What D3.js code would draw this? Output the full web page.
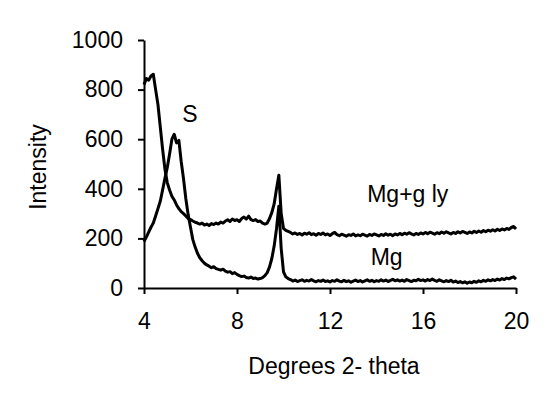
<!DOCTYPE html>
<html>
<head>
<meta charset="utf-8">
<script src="https://cdn.jsdelivr.net/npm/d3@7"></script>
<style>
  html, body { margin: 0; padding: 0; background: #fff; }
  svg text { font-family: "Liberation Sans", Arial, sans-serif; fill: #000; }
</style>
</head>
<body>
<svg id="chart" width="552" height="400"></svg>
<script>
// 2-theta grid: start and step of the diffractogram samples
const thetaStart = 4.0;
const thetaStep = 0.1;

// Mg + glycerol (Mg+g ly) intensities, 4.0 .. 20.0 step 0.1
const mgGly = [
  820, 845, 838, 855, 862, 800, 740, 650, 560, 480,   // 4.x
  425, 395, 370, 355, 335, 320, 308, 300, 290, 280,   // 5.x
  276, 270, 265, 262, 258, 262, 254, 258, 252, 260,   // 6.x
  256, 262, 258, 266, 262, 270, 275, 268, 278, 272,   // 7.x
  275, 268, 280, 286, 278, 290, 276, 272, 276, 268,   // 8.x
  270, 262, 258, 262, 280, 305, 340, 400, 455, 300,   // 9.x
  240, 232, 228, 224, 218, 222, 216, 220, 214, 221,   // 10.x
  217, 223, 215, 219, 213, 220, 216, 222, 214, 218,   // 11.x
  212, 219, 224, 215, 211, 217, 213, 209, 215, 212,   // 12.x
  218, 210, 214, 211, 217, 213, 209, 216, 212, 218,   // 13.x
  214, 210, 216, 212, 219, 213, 217, 211, 218, 214,   // 14.x
  220, 215, 221, 217, 223, 218, 214, 220, 216, 222,   // 15.x
  218, 224, 219, 225, 221, 217, 223, 219, 226, 221,   // 16.x
  227, 222, 218, 224, 220, 227, 222, 228, 224, 220,   // 17.x
  226, 222, 229, 224, 230, 225, 232, 227, 233, 229,   // 18.x
  235, 230, 237, 232, 238, 234, 240, 236, 244, 248,   // 19.x
  238                                                 // 20.0
];

// Mg intensities, 4.0 .. 20.0 step 0.1
const mg = [
  187, 205, 225, 245, 262, 290, 320, 350, 395, 442,   // 4.x
  485, 540, 600, 620, 585, 595, 510, 440, 360, 295,   // 5.x
  245, 195, 165, 140, 122, 110, 100, 93, 88, 82,      // 6.x
  86, 78, 75, 72, 76, 68, 64, 66, 58, 62,             // 7.x
  55, 50, 46, 48, 42, 40, 44, 38, 40, 36,             // 8.x
  38, 42, 50, 62, 85, 120, 170, 240, 330, 160,        // 9.x
  65, 45, 38, 34, 28, 32, 26, 30, 33, 27,             // 10.x
  31, 28, 34, 29, 25, 30, 27, 32, 26, 29,             // 11.x
  24, 30, 27, 33, 28, 25, 31, 26, 29, 23,             // 12.x
  28, 32, 26, 30, 24, 29, 33, 27, 31, 25,             // 13.x
  30, 27, 33, 28, 32, 26, 31, 35, 29, 33,             // 14.x
  28, 32, 27, 34, 30, 26, 31, 29, 35, 30,             // 15.x
  33, 28, 34, 30, 36, 31, 27, 33, 29, 25,             // 16.x
  30, 26, 31, 24, 28, 22, 26, 21, 25, 19,             // 17.x
  24, 21, 27, 23, 29, 25, 31, 27, 33, 29,             // 18.x
  34, 30, 36, 32, 38, 34, 40, 37, 42, 45,             // 19.x
  36                                                  // 20.0
];

const xTicks = [4, 8, 12, 16, 20];
const yTicks = [0, 200, 400, 600, 800, 1000];

const curveLabels = [
  { text: "S",       x: 5.65,  y: 670 },
  { text: "Mg+g ly", x: 13.6,  y: 348 },
  { text: "Mg",      x: 13.75, y: 93 }
];

const xTitle = "Degrees 2- theta";
const yTitle = "Intensity";

// ---------------------------------------------------------------
const svg = d3.select("#chart");
const x = d3.scaleLinear().domain([4, 20]).range([144, 516]);
const y = d3.scaleLinear().domain([0, 1000]).range([288, 40]);
const FS = 23;

const line = d3.line()
  .x((d, i) => x(thetaStart + i * thetaStep))
  .y(d => y(d));

[mgGly, mg].forEach(series => {
  svg.append("path")
    .datum(series)
    .attr("fill", "none")
    .attr("stroke", "#000")
    .attr("stroke-width", 3)
    .attr("stroke-linejoin", "round")
    .attr("d", line);
});

// axes
const xAxis = svg.append("g")
  .attr("transform", `translate(0,${y(0)})`)
  .call(d3.axisBottom(x).tickValues(xTicks).tickFormat(d3.format("d"))
        .tickSize(6).tickSizeOuter(0).tickPadding(19));
const yAxis = svg.append("g")
  .attr("transform", `translate(${x(4)},0)`)
  .call(d3.axisLeft(y).tickValues(yTicks).tickFormat(d3.format("d"))
        .tickSize(6).tickSizeOuter(0).tickPadding(15));

[xAxis, yAxis].forEach(g => {
  g.select(".domain").attr("stroke", "#000").attr("stroke-width", 2);
  g.selectAll(".tick line").attr("stroke", "#000").attr("stroke-width", 2);
  g.selectAll(".tick text")
    .style("font-family", '"Liberation Sans", Arial, sans-serif')
    .style("font-size", FS + "px")
    .attr("fill", "#000");
});

// titles
svg.append("text")
  .attr("x", 334).attr("y", 374)
  .attr("text-anchor", "middle")
  .style("font-size", FS + "px")
  .text(xTitle);

svg.append("text")
  .attr("transform", "translate(46,167) rotate(-90)")
  .attr("text-anchor", "middle")
  .style("font-size", FS + "px")
  .text(yTitle);

// curve labels
svg.selectAll("text.curve-label")
  .data(curveLabels)
  .join("text")
  .attr("class", "curve-label")
  .attr("x", d => x(d.x))
  .attr("y", d => y(d.y))
  .style("font-size", FS + "px")
  .text(d => d.text);
</script>
</body>
</html>
